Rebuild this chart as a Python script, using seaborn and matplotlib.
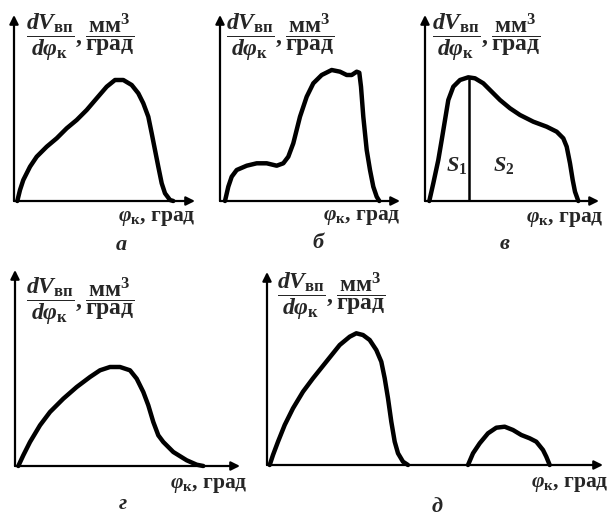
import matplotlib.pyplot as plt
import seaborn as sns

W, H = 609, 518

# Curves: angle (x) and rate (y), in pixels from each origin
a_phi = [3.3, 6, 9.3, 16, 22.7, 32.7, 42.7, 52.7, 62.7, 72.7, 82.7, 92.7, 101, 109.3,
         117.7, 124.3, 129.3, 134.3, 137.7, 141, 144.3, 147.7, 151, 156, 159.3]
a_rate = [0, 11, 21, 34.3, 44.3, 54.3, 62.7, 72.7, 81, 91, 102.7, 114.3, 121, 121,
          116, 107.7, 97.7, 84.3, 67.7, 51, 34.3, 17.7, 7.7, 1, 0]

b_phi = [5, 8.3, 11.7, 16.7, 26.7, 36.7, 46.7, 56.7, 63.3, 68.3, 73.3, 80, 86.7, 93.3,
         101.7, 111.7, 120, 126.7, 131.7, 136.7, 139.3, 141, 143.3, 146.7, 150, 153.3,
         156.7, 159.3]
b_rate = [0, 14.3, 24.3, 31, 35.3, 37.7, 37.7, 35.3, 37.7, 44.3, 57.7, 84.3, 104.3, 117.7,
          126, 131, 129.3, 126, 126, 129.3, 128.3, 114.3, 84.3, 51, 31, 14.3, 4.3, 0]

v_phi = [4.3, 8.3, 13.3, 16.7, 20, 23.3, 28.3, 35, 43.3, 50, 58.3, 66.7, 75, 85, 95,
         108.3, 121.7, 131.7, 138.3, 141.7, 145, 147.7, 150, 153.3]
v_rate = [0, 17.7, 41, 61, 81, 101, 114.3, 121, 123.7, 122.7, 117.7, 109.3, 101, 92.7, 86,
          79.3, 74.3, 69.3, 62.7, 54.3, 37.7, 21, 9.3, 0]
v_split = 44.3   # border between S1 and S2
v_peak = 123.7

g_phi = [3.3, 8.3, 15, 25, 35, 48.3, 61.7, 75, 85, 95, 105, 115, 121.7, 128.3, 133.3,
         138.3, 143.3, 148.3, 158.3, 171.7, 181.7, 188.3]
g_rate = [0, 10.7, 24, 40.7, 54, 67.3, 79, 89, 95.7, 99, 99, 95.7, 87.3, 74, 60.7,
          44, 30.7, 24, 14, 5.7, 1.3, 0]

d1_phi = [2.7, 6, 11, 17.7, 26, 36, 46, 59.3, 72.7, 82.7, 89.3, 96, 102.7, 109.3, 114.3,
          117.7, 121, 124.3, 127.7, 131, 136, 141]
d1_rate = [0, 10, 23.3, 40, 56.7, 73.3, 86.7, 103.3, 120, 128.3, 131.7, 130, 125, 115,
           103.3, 86.7, 66.7, 43.3, 23.3, 11.7, 3.3, 0]
d2_phi = [201, 206, 212.7, 221, 229.3, 237.7, 246, 254.3, 262.7, 269.3, 276, 279.3, 282.7]
d2_rate = [0, 11.7, 21.7, 31.7, 37.3, 38.3, 35, 30, 26.7, 23.3, 15, 8.3, 0]

letters = ['а', 'б', 'в', 'г', 'д']

sns.set_theme(style='white')
plt.rcParams['font.family'] = ['Liberation Serif', 'DejaVu Serif']
plt.rcParams['font.weight'] = 'bold'
plt.rcParams['mathtext.fontset'] = 'custom'
plt.rcParams['mathtext.rm'] = 'Liberation Serif:bold'
plt.rcParams['mathtext.it'] = 'Liberation Serif:italic:bold'
plt.rcParams['mathtext.bf'] = 'Liberation Serif:bold'

YLAB = r'$\dfrac{dV_{\mathrm{вп}}}{d\varphi_{\mathrm{к}}}, \dfrac{\mathrm{мм}^3}{\mathrm{град}}$'
XLAB = r'$\varphi_{\mathrm{к}}$, град'

fig = plt.figure(figsize=(W / 100, H / 100), dpi=100)


def px(x, y):
    return x / W, 1 - y / H


def add_panel(x0, y0, xlen, ylen):
    ax = fig.add_axes([x0 / W, 1 - y0 / H, xlen / W, ylen / H])
    ax.set_xlim(0, xlen)
    ax.set_ylim(0, ylen)
    ax.axis('off')
    arrow = dict(arrowstyle='-|>', color='black', lw=1.6, mutation_scale=13,
                 shrinkA=0, shrinkB=0)
    ax.annotate('', xy=(xlen, 0), xytext=(0, 0), arrowprops=arrow, annotation_clip=False)
    ax.annotate('', xy=(0, ylen), xytext=(0, 0), arrowprops=arrow, annotation_clip=False)
    return ax


def curve(ax, x, y):
    sns.lineplot(x=x, y=y, sort=False, ax=ax, color='black', linewidth=3.2,
                 estimator=None, clip_on=False)


# origin x, origin y, x-axis length, y-axis length
panels = [(14, 201, 181, 186), (220, 201, 180, 186), (425, 201, 174, 186),
          (15, 466, 225, 196), (267, 465, 336, 193)]
axes = [add_panel(*p) for p in panels]

curve(axes[0], a_phi, a_rate)
curve(axes[1], b_phi, b_rate)
curve(axes[2], v_phi, v_rate)
axes[2].plot([v_split, v_split], [0, v_peak], color='black', lw=1.8)
axes[2].text(31.7, 36, r'$S_1$', fontsize=16, ha='center', va='center')
axes[2].text(78.3, 36, r'$S_2$', fontsize=16, ha='center', va='center')
curve(axes[3], g_phi, g_rate)
curve(axes[4], d1_phi, d1_rate)
curve(axes[4], d2_phi, d2_rate)

# axis labels and panel letters
ylab_pos = [(26, 11), (226, 11), (432, 11), (26, 275), (277, 270)]
xlab_pos = [(196, 218), (401, 217), (604, 219), (248, 485), (609, 484)]
let_pos = [(121, 245), (318, 243), (505, 244), (123, 504), (437, 507)]
for i in range(5):
    fig.text(*px(*ylab_pos[i]), YLAB, fontsize=17, ha='left', va='top')
    fig.text(*px(*xlab_pos[i]), XLAB, fontsize=15.5, ha='right', va='center')
    fig.text(*px(*let_pos[i]), letters[i], fontsize=16, style='italic',
             ha='center', va='center')

fig.savefig('out.png', dpi=100)
